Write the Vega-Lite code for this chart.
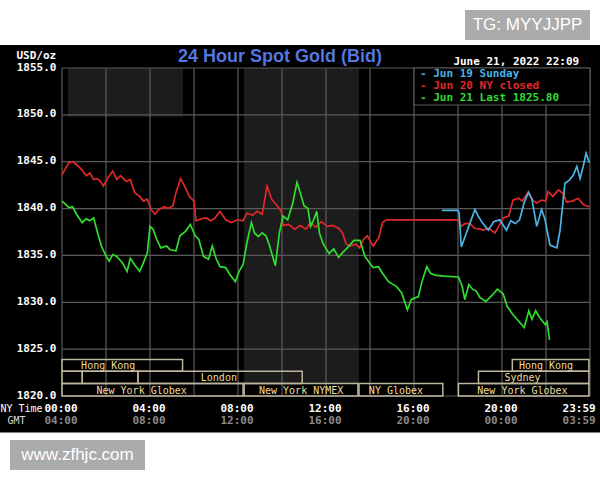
{
  "$schema": "https://vega.github.io/schema/vega-lite/v6.json",
  "width": 528,
  "height": 328,
  "autosize": "none",
  "padding": {"left": 62, "top": 68, "right": 10, "bottom": 84},
  "background": "white",
  "title": {"text": "24 Hour Spot Gold (Bid)", "anchor": "start", "frame": "group", "dx": 116, "dy": 60, "font": "Liberation Sans", "fontSize": 18, "fontWeight": "bold", "color": "#5577e0"},
  "config": {
    "view": {"stroke": null},
    "axis": {"zindex": 1, "grid": false, "ticks": false, "domain": false, "labelFont": "DejaVu Sans Mono", "labelFontWeight": "bold", "labelFontSize": 11, "labelColor": "white", "labelOverlap": false, "labelBound": false, "labelFlush": false}
  },
  "datasets": {
    "prices": [
      {"s":"Jun 20 NY closed","h":0,"p":1843.6},{"s":"Jun 20 NY closed","h":0.14,"p":1844.2},{"s":"Jun 20 NY closed","h":0.31,"p":1844.9},{"s":"Jun 20 NY closed","h":0.48,"p":1845.0},{"s":"Jun 20 NY closed","h":0.66,"p":1844.7},{"s":"Jun 20 NY closed","h":0.92,"p":1844.1},{"s":"Jun 20 NY closed","h":1.1,"p":1843.5},{"s":"Jun 20 NY closed","h":1.27,"p":1843.8},{"s":"Jun 20 NY closed","h":1.44,"p":1843.1},{"s":"Jun 20 NY closed","h":1.6,"p":1843.2},{"s":"Jun 20 NY closed","h":1.74,"p":1842.9},{"s":"Jun 20 NY closed","h":1.88,"p":1842.4},{"s":"Jun 20 NY closed","h":2.09,"p":1843.3},{"s":"Jun 20 NY closed","h":2.31,"p":1844.0},{"s":"Jun 20 NY closed","h":2.49,"p":1843.1},{"s":"Jun 20 NY closed","h":2.66,"p":1843.5},{"s":"Jun 20 NY closed","h":2.92,"p":1842.9},{"s":"Jun 20 NY closed","h":3.1,"p":1843.1},{"s":"Jun 20 NY closed","h":3.3,"p":1841.7},{"s":"Jun 20 NY closed","h":3.53,"p":1841.3},{"s":"Jun 20 NY closed","h":3.7,"p":1840.8},{"s":"Jun 20 NY closed","h":3.88,"p":1841.0},{"s":"Jun 20 NY closed","h":4.05,"p":1839.9},{"s":"Jun 20 NY closed","h":4.23,"p":1839.4},{"s":"Jun 20 NY closed","h":4.4,"p":1839.9},{"s":"Jun 20 NY closed","h":4.66,"p":1840.2},{"s":"Jun 20 NY closed","h":4.83,"p":1840.0},{"s":"Jun 20 NY closed","h":5.04,"p":1840.3},{"s":"Jun 20 NY closed","h":5.18,"p":1841.7},{"s":"Jun 20 NY closed","h":5.39,"p":1843.2},{"s":"Jun 20 NY closed","h":5.57,"p":1842.4},{"s":"Jun 20 NY closed","h":5.79,"p":1841.3},{"s":"Jun 20 NY closed","h":6.0,"p":1840.8},{"s":"Jun 20 NY closed","h":6.09,"p":1838.7},{"s":"Jun 20 NY closed","h":6.31,"p":1838.9},{"s":"Jun 20 NY closed","h":6.57,"p":1839.0},{"s":"Jun 20 NY closed","h":6.75,"p":1838.7},{"s":"Jun 20 NY closed","h":6.92,"p":1838.9},{"s":"Jun 20 NY closed","h":7.18,"p":1839.7},{"s":"Jun 20 NY closed","h":7.44,"p":1838.8},{"s":"Jun 20 NY closed","h":7.7,"p":1838.5},{"s":"Jun 20 NY closed","h":7.97,"p":1838.8},{"s":"Jun 20 NY closed","h":8.23,"p":1838.7},{"s":"Jun 20 NY closed","h":8.4,"p":1839.5},{"s":"Jun 20 NY closed","h":8.66,"p":1839.3},{"s":"Jun 20 NY closed","h":8.87,"p":1839.7},{"s":"Jun 20 NY closed","h":9.1,"p":1839.4},{"s":"Jun 20 NY closed","h":9.32,"p":1842.4},{"s":"Jun 20 NY closed","h":9.53,"p":1841.0},{"s":"Jun 20 NY closed","h":9.74,"p":1840.4},{"s":"Jun 20 NY closed","h":9.97,"p":1839.7},{"s":"Jun 20 NY closed","h":10.05,"p":1838.2},{"s":"Jun 20 NY closed","h":10.31,"p":1838.3},{"s":"Jun 20 NY closed","h":10.57,"p":1837.8},{"s":"Jun 20 NY closed","h":10.83,"p":1838.2},{"s":"Jun 20 NY closed","h":11.09,"p":1837.8},{"s":"Jun 20 NY closed","h":11.3,"p":1838.5},{"s":"Jun 20 NY closed","h":11.53,"p":1838.0},{"s":"Jun 20 NY closed","h":11.79,"p":1838.6},{"s":"Jun 20 NY closed","h":12.05,"p":1838.1},{"s":"Jun 20 NY closed","h":12.31,"p":1838.2},{"s":"Jun 20 NY closed","h":12.57,"p":1837.9},{"s":"Jun 20 NY closed","h":12.75,"p":1837.4},{"s":"Jun 20 NY closed","h":12.92,"p":1836.2},{"s":"Jun 20 NY closed","h":13.1,"p":1836.0},{"s":"Jun 20 NY closed","h":13.36,"p":1836.2},{"s":"Jun 20 NY closed","h":13.53,"p":1835.8},{"s":"Jun 20 NY closed","h":13.7,"p":1836.7},{"s":"Jun 20 NY closed","h":13.88,"p":1837.1},{"s":"Jun 20 NY closed","h":14.14,"p":1836.0},{"s":"Jun 20 NY closed","h":14.4,"p":1836.9},{"s":"Jun 20 NY closed","h":14.57,"p":1838.5},{"s":"Jun 20 NY closed","h":14.75,"p":1838.8},{"s":"Jun 20 NY closed","h":18.02,"p":1838.8},{"s":"Jun 20 NY closed","h":18.14,"p":1838.1},{"s":"Jun 20 NY closed","h":18.31,"p":1838.4},{"s":"Jun 20 NY closed","h":18.55,"p":1838.4},{"s":"Jun 20 NY closed","h":18.75,"p":1837.9},{"s":"Jun 20 NY closed","h":19.01,"p":1837.8},{"s":"Jun 20 NY closed","h":19.15,"p":1837.7},{"s":"Jun 20 NY closed","h":19.4,"p":1837.9},{"s":"Jun 20 NY closed","h":19.68,"p":1837.4},{"s":"Jun 20 NY closed","h":19.85,"p":1838.1},{"s":"Jun 20 NY closed","h":20.06,"p":1839.0},{"s":"Jun 20 NY closed","h":20.31,"p":1839.2},{"s":"Jun 20 NY closed","h":20.5,"p":1840.9},{"s":"Jun 20 NY closed","h":20.75,"p":1841.1},{"s":"Jun 20 NY closed","h":20.92,"p":1840.8},{"s":"Jun 20 NY closed","h":21.2,"p":1841.8},{"s":"Jun 20 NY closed","h":21.4,"p":1840.9},{"s":"Jun 20 NY closed","h":21.58,"p":1840.6},{"s":"Jun 20 NY closed","h":21.8,"p":1840.9},{"s":"Jun 20 NY closed","h":21.97,"p":1840.8},{"s":"Jun 20 NY closed","h":22.1,"p":1841.8},{"s":"Jun 20 NY closed","h":22.31,"p":1841.3},{"s":"Jun 20 NY closed","h":22.56,"p":1842.0},{"s":"Jun 20 NY closed","h":22.78,"p":1841.6},{"s":"Jun 20 NY closed","h":22.94,"p":1840.7},{"s":"Jun 20 NY closed","h":23.2,"p":1840.8},{"s":"Jun 20 NY closed","h":23.47,"p":1841.1},{"s":"Jun 20 NY closed","h":23.7,"p":1840.4},{"s":"Jun 20 NY closed","h":23.97,"p":1840.2},
      {"s":"Jun 21","h":0,"p":1840.8},{"s":"Jun 21","h":0.14,"p":1840.5},{"s":"Jun 21","h":0.31,"p":1840.1},{"s":"Jun 21","h":0.48,"p":1840.2},{"s":"Jun 21","h":0.66,"p":1839.4},{"s":"Jun 21","h":0.92,"p":1838.5},{"s":"Jun 21","h":1.1,"p":1838.9},{"s":"Jun 21","h":1.27,"p":1838.7},{"s":"Jun 21","h":1.44,"p":1839.0},{"s":"Jun 21","h":1.62,"p":1837.4},{"s":"Jun 21","h":1.79,"p":1836.0},{"s":"Jun 21","h":1.97,"p":1835.1},{"s":"Jun 21","h":2.14,"p":1834.4},{"s":"Jun 21","h":2.31,"p":1835.1},{"s":"Jun 21","h":2.49,"p":1834.9},{"s":"Jun 21","h":2.75,"p":1834.2},{"s":"Jun 21","h":2.96,"p":1833.3},{"s":"Jun 21","h":3.1,"p":1834.7},{"s":"Jun 21","h":3.3,"p":1834.0},{"s":"Jun 21","h":3.53,"p":1833.3},{"s":"Jun 21","h":3.7,"p":1834.2},{"s":"Jun 21","h":3.88,"p":1835.3},{"s":"Jun 21","h":4.0,"p":1838.1},{"s":"Jun 21","h":4.14,"p":1837.8},{"s":"Jun 21","h":4.31,"p":1836.7},{"s":"Jun 21","h":4.49,"p":1835.8},{"s":"Jun 21","h":4.75,"p":1836.0},{"s":"Jun 21","h":4.92,"p":1835.6},{"s":"Jun 21","h":5.18,"p":1835.5},{"s":"Jun 21","h":5.36,"p":1837.1},{"s":"Jun 21","h":5.62,"p":1837.6},{"s":"Jun 21","h":5.83,"p":1838.3},{"s":"Jun 21","h":6.05,"p":1837.1},{"s":"Jun 21","h":6.22,"p":1836.7},{"s":"Jun 21","h":6.43,"p":1834.9},{"s":"Jun 21","h":6.66,"p":1834.6},{"s":"Jun 21","h":6.83,"p":1836.0},{"s":"Jun 21","h":7.0,"p":1834.7},{"s":"Jun 21","h":7.18,"p":1833.8},{"s":"Jun 21","h":7.44,"p":1833.7},{"s":"Jun 21","h":7.62,"p":1833.0},{"s":"Jun 21","h":7.88,"p":1832.2},{"s":"Jun 21","h":8.05,"p":1833.3},{"s":"Jun 21","h":8.23,"p":1834.0},{"s":"Jun 21","h":8.4,"p":1836.3},{"s":"Jun 21","h":8.61,"p":1838.5},{"s":"Jun 21","h":8.75,"p":1837.4},{"s":"Jun 21","h":8.92,"p":1837.0},{"s":"Jun 21","h":9.1,"p":1837.4},{"s":"Jun 21","h":9.27,"p":1837.1},{"s":"Jun 21","h":9.44,"p":1836.0},{"s":"Jun 21","h":9.57,"p":1834.9},{"s":"Jun 21","h":9.7,"p":1833.9},{"s":"Jun 21","h":9.88,"p":1837.4},{"s":"Jun 21","h":10.05,"p":1839.2},{"s":"Jun 21","h":10.26,"p":1838.8},{"s":"Jun 21","h":10.49,"p":1840.6},{"s":"Jun 21","h":10.68,"p":1842.8},{"s":"Jun 21","h":10.83,"p":1841.7},{"s":"Jun 21","h":11.0,"p":1840.3},{"s":"Jun 21","h":11.18,"p":1840.0},{"s":"Jun 21","h":11.3,"p":1838.1},{"s":"Jun 21","h":11.44,"p":1838.8},{"s":"Jun 21","h":11.58,"p":1839.7},{"s":"Jun 21","h":11.7,"p":1837.4},{"s":"Jun 21","h":11.88,"p":1836.2},{"s":"Jun 21","h":12.14,"p":1835.2},{"s":"Jun 21","h":12.35,"p":1835.7},{"s":"Jun 21","h":12.57,"p":1834.8},{"s":"Jun 21","h":12.8,"p":1835.4},{"s":"Jun 21","h":12.97,"p":1835.8},{"s":"Jun 21","h":13.27,"p":1836.6},{"s":"Jun 21","h":13.55,"p":1836.6},{"s":"Jun 21","h":13.77,"p":1834.9},{"s":"Jun 21","h":13.95,"p":1834.3},{"s":"Jun 21","h":14.14,"p":1833.7},{"s":"Jun 21","h":14.38,"p":1833.8},{"s":"Jun 21","h":14.57,"p":1833.1},{"s":"Jun 21","h":14.84,"p":1832.2},{"s":"Jun 21","h":15.2,"p":1831.7},{"s":"Jun 21","h":15.44,"p":1831.0},{"s":"Jun 21","h":15.7,"p":1829.2},{"s":"Jun 21","h":15.88,"p":1830.3},{"s":"Jun 21","h":16.2,"p":1830.6},{"s":"Jun 21","h":16.35,"p":1832.1},{"s":"Jun 21","h":16.58,"p":1833.8},{"s":"Jun 21","h":16.75,"p":1833.1},{"s":"Jun 21","h":16.95,"p":1832.9},{"s":"Jun 21","h":17.35,"p":1832.8},{"s":"Jun 21","h":18.02,"p":1832.7},{"s":"Jun 21","h":18.19,"p":1831.7},{"s":"Jun 21","h":18.31,"p":1830.3},{"s":"Jun 21","h":18.49,"p":1831.9},{"s":"Jun 21","h":18.66,"p":1831.4},{"s":"Jun 21","h":18.83,"p":1831.2},{"s":"Jun 21","h":19.0,"p":1830.5},{"s":"Jun 21","h":19.27,"p":1830.1},{"s":"Jun 21","h":19.53,"p":1830.7},{"s":"Jun 21","h":19.79,"p":1831.4},{"s":"Jun 21","h":20.05,"p":1830.9},{"s":"Jun 21","h":20.23,"p":1829.6},{"s":"Jun 21","h":20.49,"p":1828.7},{"s":"Jun 21","h":20.75,"p":1828.0},{"s":"Jun 21","h":21.01,"p":1827.3},{"s":"Jun 21","h":21.22,"p":1829.1},{"s":"Jun 21","h":21.36,"p":1828.2},{"s":"Jun 21","h":21.53,"p":1829.1},{"s":"Jun 21","h":21.7,"p":1828.4},{"s":"Jun 21","h":21.97,"p":1827.6},{"s":"Jun 21","h":22.05,"p":1827.9},{"s":"Jun 21","h":22.16,"p":1826.0},
      {"s":"Jun 19 Sunday","h":17.27,"p":1839.8},{"s":"Jun 19 Sunday","h":18.0,"p":1839.8},{"s":"Jun 19 Sunday","h":18.05,"p":1839.5},{"s":"Jun 19 Sunday","h":18.15,"p":1835.9},{"s":"Jun 19 Sunday","h":18.32,"p":1837.0},{"s":"Jun 19 Sunday","h":18.49,"p":1838.1},{"s":"Jun 19 Sunday","h":18.77,"p":1839.9},{"s":"Jun 19 Sunday","h":18.92,"p":1839.2},{"s":"Jun 19 Sunday","h":19.1,"p":1838.5},{"s":"Jun 19 Sunday","h":19.38,"p":1837.7},{"s":"Jun 19 Sunday","h":19.62,"p":1838.6},{"s":"Jun 19 Sunday","h":19.9,"p":1838.8},{"s":"Jun 19 Sunday","h":20.2,"p":1837.7},{"s":"Jun 19 Sunday","h":20.4,"p":1838.7},{"s":"Jun 19 Sunday","h":20.6,"p":1838.4},{"s":"Jun 19 Sunday","h":20.8,"p":1838.8},{"s":"Jun 19 Sunday","h":21.0,"p":1840.6},{"s":"Jun 19 Sunday","h":21.2,"p":1841.7},{"s":"Jun 19 Sunday","h":21.36,"p":1841.0},{"s":"Jun 19 Sunday","h":21.58,"p":1838.1},{"s":"Jun 19 Sunday","h":21.8,"p":1839.9},{"s":"Jun 19 Sunday","h":21.95,"p":1838.9},{"s":"Jun 19 Sunday","h":22.18,"p":1836.1},{"s":"Jun 19 Sunday","h":22.49,"p":1835.8},{"s":"Jun 19 Sunday","h":22.64,"p":1837.7},{"s":"Jun 19 Sunday","h":22.86,"p":1842.7},{"s":"Jun 19 Sunday","h":23.05,"p":1843.0},{"s":"Jun 19 Sunday","h":23.25,"p":1843.6},{"s":"Jun 19 Sunday","h":23.4,"p":1844.5},{"s":"Jun 19 Sunday","h":23.55,"p":1843.2},{"s":"Jun 19 Sunday","h":23.7,"p":1844.6},{"s":"Jun 19 Sunday","h":23.82,"p":1845.9},{"s":"Jun 19 Sunday","h":23.97,"p":1844.9}
    ],
    "sessions": [
      {"label":"Hong Kong","start":0,"end":5.48,"lo":1822.63,"hi":1823.9,"lx":2.1},
      {"label":"Hong Kong","start":20.47,"end":23.95,"lo":1822.63,"hi":1823.9,"lx":22.0},
      {"label":"","start":0,"end":0.92,"lo":1821.33,"hi":1822.63,"lx":0.46},
      {"label":"","start":0.92,"end":3.45,"lo":1821.33,"hi":1822.63,"lx":2.2},
      {"label":"London","start":3.45,"end":10.92,"lo":1821.33,"hi":1822.63,"lx":7.13},
      {"label":"Sydney","start":18.93,"end":23.95,"lo":1821.33,"hi":1822.63,"lx":20.93},
      {"label":"New York Globex","start":0,"end":8.23,"lo":1820,"hi":1821.33,"lx":3.62},
      {"label":"New York NYMEX","start":8.28,"end":13.45,"lo":1820,"hi":1821.33,"lx":10.87},
      {"label":"NY Globex","start":13.5,"end":17.31,"lo":1820,"hi":1821.33,"lx":15.18},
      {"label":"New York Globex","start":18.02,"end":23.95,"lo":1820,"hi":1821.33,"lx":20.93}
    ],
    "legend": [
      {"s":"Jun 19 Sunday","label":"- Jun 19 Sunday","p":1854.33},
      {"s":"Jun 20 NY closed","label":"- Jun 20 NY closed","p":1853.08},
      {"s":"Jun 21","label":"- Jun 21 Last 1825.80","p":1851.77}
    ]
  },
  "resolve": {"axis": {"x": "independent", "y": "independent"}},
  "layer": [
    {
      "data": {"values": [{}]},
      "mark": {"type": "rect", "color": "black"},
      "encoding": {
        "x": {"datum": -2.82, "type": "quantitative", "scale": {"domain": [0, 24], "nice": false, "zero": false}, "axis": null},
        "x2": {"datum": 24.46},
        "y": {"datum": 1816.1, "type": "quantitative", "scale": {"domain": [1820, 1855], "nice": false, "zero": false}, "axis": null},
        "y2": {"datum": 1857.45}
      }
    },
    {
      "data": {"values": [{"start": 0.27, "end": 5.5, "lo": 1849.8, "hi": 1855}, {"start": 8.27, "end": 13.5, "lo": 1821.33, "hi": 1855}]},
      "mark": {"type": "rect", "color": "#1c1c1c"},
      "encoding": {
        "x": {"field": "start", "type": "quantitative", "scale": {"domain": [0, 24], "nice": false, "zero": false}, "axis": null},
        "x2": {"field": "end"},
        "y": {"field": "lo", "type": "quantitative", "scale": {"domain": [1820, 1855], "nice": false, "zero": false}, "axis": null},
        "y2": {"field": "hi"}
      }
    },
    {
      "data": {"values": [{"h":0},{"h":2},{"h":4},{"h":6},{"h":8},{"h":10},{"h":12},{"h":14},{"h":16},{"h":18},{"h":20},{"h":22},{"h":24}]},
      "mark": {"type": "rule", "color": "#5a5a5a", "strokeWidth": 1.2},
      "encoding": {
        "x": {"field": "h", "type": "quantitative", "scale": {"domain": [0, 24], "nice": false, "zero": false},
          "axis": {"orient": "bottom", "zindex": 2, "values": [0, 4, 8, 12, 16, 20, 23.983],
            "labelExpr": "datum.value > 23.5 ? '23:59' : (datum.value < 10 ? '0' : '') + datum.value + ':00'",
            "labelPadding": 12, "labelBaseline": "middle",
            "labelOffset": {"condition": {"test": "datum.value > 23", "value": -11}, "value": -1.5},
            "title": "NY Time", "titleX": -62, "titleY": 12, "titleAlign": "left", "titleBaseline": "middle", "titleAngle": 0,
            "titleFont": "DejaVu Sans Mono", "titleFontSize": 10, "titleFontWeight": "normal", "titleColor": "white"}}
      }
    },
    {
      "data": {"values": [{"p":1820},{"p":1825},{"p":1830},{"p":1835},{"p":1840},{"p":1845},{"p":1850},{"p":1855}]},
      "mark": {"type": "rule", "color": "#5a5a5a", "strokeWidth": 1.2},
      "encoding": {
        "y": {"field": "p", "type": "quantitative", "scale": {"domain": [1820, 1855], "nice": false, "zero": false},
          "axis": {"orient": "left", "zindex": 2, "values": [1820, 1825, 1830, 1835, 1840, 1845, 1850, 1855], "format": ".1f",
            "labelPadding": 6, "labelBaseline": "middle", "labelOffset": -1,
            "title": "USD/oz", "titleX": -46, "titleY": -13, "titleAngle": 0, "titleAlign": "left", "titleBaseline": "middle",
            "titleFont": "DejaVu Sans Mono", "titleFontSize": 11, "titleFontWeight": "bold", "titleColor": "white"}}
      }
    },
    {
      "data": {"values": [{}]},
      "mark": {"type": "rect", "fill": "black", "stroke": "#5a5a5a", "strokeWidth": 1.2},
      "encoding": {
        "x": {"datum": 16, "type": "quantitative", "scale": {"domain": [0, 24], "nice": false, "zero": false}, "axis": null},
        "x2": {"datum": 24},
        "y": {"datum": 1851.05, "type": "quantitative", "scale": {"domain": [1820, 1855], "nice": false, "zero": false}, "axis": null},
        "y2": {"datum": 1855}
      }
    },
    {
      "data": {"name": "sessions"},
      "mark": {"type": "rect", "fill": "black", "fillOpacity": 0, "stroke": "#bdb59c", "strokeWidth": 1.5},
      "encoding": {
        "x": {"field": "start", "type": "quantitative", "scale": {"domain": [0, 24], "nice": false, "zero": false}, "axis": null},
        "x2": {"field": "end"},
        "y": {"field": "lo", "type": "quantitative", "scale": {"domain": [1820, 1855], "nice": false, "zero": false}, "axis": null},
        "y2": {"field": "hi"}
      }
    },
    {
      "data": {"name": "sessions"},
      "mark": {"type": "text", "font": "DejaVu Sans Mono", "fontSize": 10, "color": "#ecdc9e", "align": "center", "baseline": "alphabetic", "dy": -2.5},
      "encoding": {
        "x": {"field": "lx", "type": "quantitative", "scale": {"domain": [0, 24], "nice": false, "zero": false}, "axis": null},
        "y": {"field": "lo", "type": "quantitative", "scale": {"domain": [1820, 1855], "nice": false, "zero": false}, "axis": null},
        "text": {"field": "label"}
      }
    },
    {
      "data": {"name": "prices"},
      "mark": {"type": "line", "strokeWidth": 1.7, "interpolate": "linear"},
      "encoding": {
        "x": {"field": "h", "type": "quantitative", "scale": {"domain": [0, 24], "nice": false, "zero": false},
          "axis": {"orient": "bottom", "zindex": 2, "values": [0, 4, 8, 12, 16, 20, 23.983],
            "labelExpr": "datum.value > 23.5 ? '03:59' : (((datum.value + 4) % 24) < 10 ? '0' : '') + ((datum.value + 4) % 24) + ':00'",
            "labelPadding": 24.5, "labelBaseline": "middle", "labelColor": "#8a8a8a",
            "labelOffset": {"condition": {"test": "datum.value > 23", "value": -11}, "value": -1.5},
            "title": "GMT", "titleX": -55, "titleY": 24.5, "titleAlign": "left", "titleBaseline": "middle", "titleAngle": 0,
            "titleFont": "DejaVu Sans Mono", "titleFontSize": 10, "titleFontWeight": "normal", "titleColor": "#d8d8d8"}},
        "y": {"field": "p", "type": "quantitative", "scale": {"domain": [1820, 1855], "nice": false, "zero": false}, "axis": null},
        "color": {"field": "s", "type": "nominal", "scale": {"domain": ["Jun 19 Sunday", "Jun 20 NY closed", "Jun 21"], "range": ["#4ab4e6", "#e02828", "#30dc30"]}, "legend": null}
      }
    },
    {
      "data": {"name": "legend"},
      "mark": {"type": "text", "font": "DejaVu Sans Mono", "fontSize": 11, "fontWeight": "bold", "align": "left", "baseline": "middle"},
      "encoding": {
        "x": {"datum": 16.27, "type": "quantitative", "scale": {"domain": [0, 24], "nice": false, "zero": false}, "axis": null},
        "y": {"field": "p", "type": "quantitative", "scale": {"domain": [1820, 1855], "nice": false, "zero": false}, "axis": null},
        "text": {"field": "label"},
        "color": {"field": "s", "type": "nominal", "scale": {"domain": ["Jun 19 Sunday", "Jun 20 NY closed", "Jun 21"], "range": ["#4ab4e6", "#e02828", "#30dc30"]}, "legend": null}
      }
    },
    {
      "data": {"values": [{"label": "June 21, 2022 22:09"}]},
      "mark": {"type": "text", "font": "DejaVu Sans Mono", "fontSize": 11, "fontWeight": "bold", "color": "white", "align": "right", "baseline": "middle"},
      "encoding": {
        "x": {"datum": 23.51, "type": "quantitative", "scale": {"domain": [0, 24], "nice": false, "zero": false}, "axis": null},
        "y": {"datum": 1855.67, "type": "quantitative", "scale": {"domain": [1820, 1855], "nice": false, "zero": false}, "axis": null},
        "text": {"field": "label"}
      }
    },
    {
      "data": {"values": [{"x1": 18.32, "x2": 24.0, "y1": 1857.99, "y2": 1861.19}, {"x1": -2.364, "x2": 3.773, "y1": 1812.1, "y2": 1815.3}]},
      "mark": {"type": "rect", "color": "#ababab"},
      "encoding": {
        "x": {"field": "x1", "type": "quantitative", "scale": {"domain": [0, 24], "nice": false, "zero": false}, "axis": null},
        "x2": {"field": "x2"},
        "y": {"field": "y1", "type": "quantitative", "scale": {"domain": [1820, 1855], "nice": false, "zero": false}, "axis": null},
        "y2": {"field": "y2"}
      }
    },
    {
      "data": {"values": [{"label": "TG: MYYJJPP", "x": 21.16, "y": 1859.59}, {"label": "www.zfhjc.com", "x": 0.705, "y": 1813.7}]},
      "mark": {"type": "text", "font": "Liberation Sans", "fontSize": 17, "color": "white", "align": "center", "baseline": "middle"},
      "encoding": {
        "x": {"field": "x", "type": "quantitative", "scale": {"domain": [0, 24], "nice": false, "zero": false}, "axis": null},
        "y": {"field": "y", "type": "quantitative", "scale": {"domain": [1820, 1855], "nice": false, "zero": false}, "axis": null},
        "text": {"field": "label"}
      }
    }
  ]
}
